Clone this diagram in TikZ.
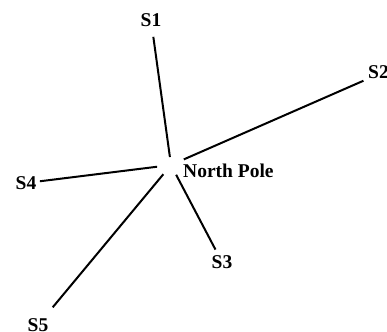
\documentclass[tikz,border=0pt]{standalone}
\usepackage{fontspec}
\setmainfont{Liberation Serif}
\usetikzlibrary{positioning}

\begin{document}
\begin{tikzpicture}[x=1pt, y=-1pt,
      lab/.style={font=\fontsize{19.5}{21}\selectfont\bfseries, inner sep=0pt},
      spoke/.style={line width=2pt}]
    \useasboundingbox (0,0) rectangle (387,331);
    \coordinate (pole) at (171,165);
    \node[lab] (s1) at (151,20) {S1};
    \node[lab, anchor=west] (s2) at (368,72) {S2};
    \node[lab] (s3) at (222,262) {S3};
    \node[lab] (s4) at (26,183) {S4};
    \node[lab] (s5) at (38,325) {S5};
    \node[lab, anchor=west] (np) at (183,171) {North Pole};
    \draw[spoke, shorten <=17pt, shorten >=8pt] (s1.center) -- (pole);
    \draw[spoke, shorten <=5pt, shorten >=14pt] (s2.south west) -- (pole);
    \draw[spoke, shorten <=14pt, shorten >=11pt] (s3.center) -- (pole);
    \draw[spoke, shorten <=14pt, shorten >=14pt] (s4.center) -- (pole);
    \draw[spoke, shorten <=23pt, shorten >=12pt] (s5.center) -- (pole);
  \end{tikzpicture}
\end{document}
